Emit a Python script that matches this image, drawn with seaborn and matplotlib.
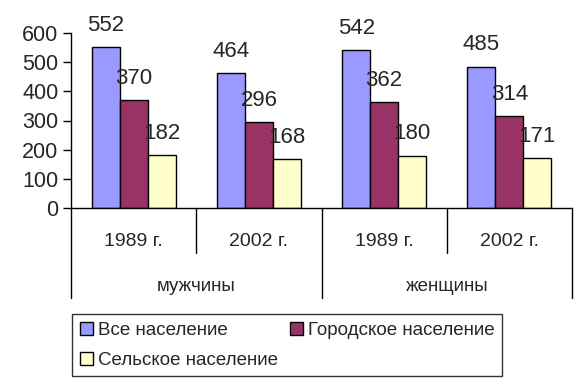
import matplotlib
matplotlib.use("Agg")
import matplotlib.pyplot as plt
import seaborn as sns
import pandas as pd

# dane
groups = ["мужчины", "мужчины", "женщины", "женщины"]
years = ["1989 г.", "2002 г.", "1989 г.", "2002 г."]
series = ["Все население", "Городское население", "Сельское население"]
vse = [552, 464, 542, 485]
gorod = [370, 296, 362, 314]
selo = [182, 168, 180, 171]
colors = ["#9999FF", "#993366", "#FFFFCC"]

cats = [g + " " + y for g, y in zip(groups, years)]
rows = []
for name, vals in zip(series, [vse, gorod, selo]):
    for c, v in zip(cats, vals):
        rows.append({"cat": c, "series": name, "value": v})
df = pd.DataFrame(rows)

sns.set_style("white")
plt.rcParams["font.family"] = ["Liberation Sans", "DejaVu Sans"]

fig = plt.figure(figsize=(5.87, 3.86), dpi=100)
ax = fig.add_axes([71 / 587, 1 - 208 / 386, 501 / 587, 175 / 386])

sns.barplot(data=df, x="cat", y="value", hue="series", order=cats,
            palette=colors, width=0.67, edgecolor="black", linewidth=1,
            saturation=1, ax=ax)

handles, labels = ax.get_legend_handles_labels()
ax.get_legend().remove()

for cont in ax.containers:
    ax.bar_label(cont, padding=8, fontsize=16)

ax.set_ylim(0, 600)
ax.set_xlim(-0.5, 3.5)
ax.set_yticks(range(0, 601, 100))
ax.tick_params(axis="y", labelsize=15.5, length=6, width=1, direction="out",
               left=True, color="black", pad=3)
ax.set_xticks([])
ax.set_xlabel("")
ax.set_ylabel("")
for s in ["top", "right"]:
    ax.spines[s].set_visible(False)
for s in ["left", "bottom"]:
    ax.spines[s].set_color("black")
    ax.spines[s].set_linewidth(1)

# многоуровневая ось категорий
tr = ax.get_xaxis_transform()
for x in [0.5, 2.5]:
    ax.plot([x, x], [0, -0.257], color="black", lw=1, transform=tr, clip_on=False)
for x in [-0.5, 1.5, 3.5]:
    ax.plot([x, x], [0, -0.514], color="black", lw=1, transform=tr, clip_on=False)
for i, y in enumerate(years):
    ax.text(i, -0.194, y, transform=tr, ha="center", va="center", fontsize=14)
for i, g in enumerate(["мужчины", "женщины"]):
    ax.text(2 * i + 0.5, -0.451, g, transform=tr, ha="center", va="center", fontsize=13.5)

# порядок: первая строка Все / Городское, вторая Сельское
order = [0, 2, 1]
leg = fig.legend([handles[i] for i in order], [labels[i] for i in order],
                 ncol=2, loc="upper left",
                 bbox_to_anchor=(72 / 587, 1 - 314 / 386),
                 frameon=True, fancybox=False, edgecolor="black",
                 fontsize=13.5, handlelength=0.7, handleheight=0.7,
                 handletextpad=0.3, columnspacing=0.6, borderpad=0.4,
                 labelspacing=0.7, borderaxespad=0)
leg.get_frame().set_linewidth(1)

fig.savefig("out.png", dpi=100)
